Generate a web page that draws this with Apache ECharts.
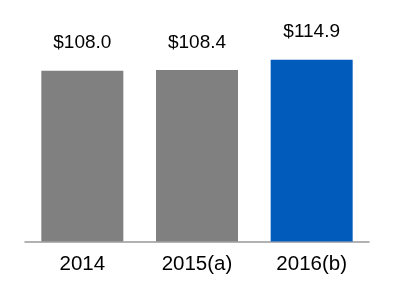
<!DOCTYPE html>
<html>
<head>
<meta charset="utf-8">
<script src="https://cdn.jsdelivr.net/npm/echarts@6/dist/echarts.min.js"></script>
<style>
html,body{margin:0;padding:0;background:#fff;}
#c{width:396px;height:281px;}
</style>
</head>
<body>
<div id="c"></div>
<script>
var categories = ['2014', '2015(a)', '2016(b)'];
var values = [108.0, 108.4, 114.9];
var barColors = ['#808080', '#808080', '#005bbb'];

var chart = echarts.init(document.getElementById('c'), null, {renderer: 'canvas'});
chart.setOption({
  animation: false,
  backgroundColor: '#ffffff',
  grid: {left: 25, right: 27, top: 20, bottom: 39.5},
  xAxis: {
    type: 'category',
    data: categories,
    axisLine: {show: true, lineStyle: {color: '#999999', width: 1.5}},
    axisTick: {show: false},
    axisLabel: {color: '#000000', fontFamily: 'Liberation Sans', fontSize: 20.5, margin: 12}
  },
  yAxis: {
    type: 'value',
    min: 0,
    max: 140,
    show: false,
    splitLine: {show: false}
  },
  series: [{
    type: 'bar',
    barWidth: 82,
    data: values.map(function (v, i) {
      return {value: v, itemStyle: {color: barColors[i]}};
    }),
    label: {
      show: true,
      position: 'top',
      distance: 18,
      color: '#000000',
      fontFamily: 'Liberation Sans',
      fontSize: 19,
      formatter: function (p) { return '$' + p.value.toFixed(1); }
    }
  }]
});
</script>
</body>
</html>
